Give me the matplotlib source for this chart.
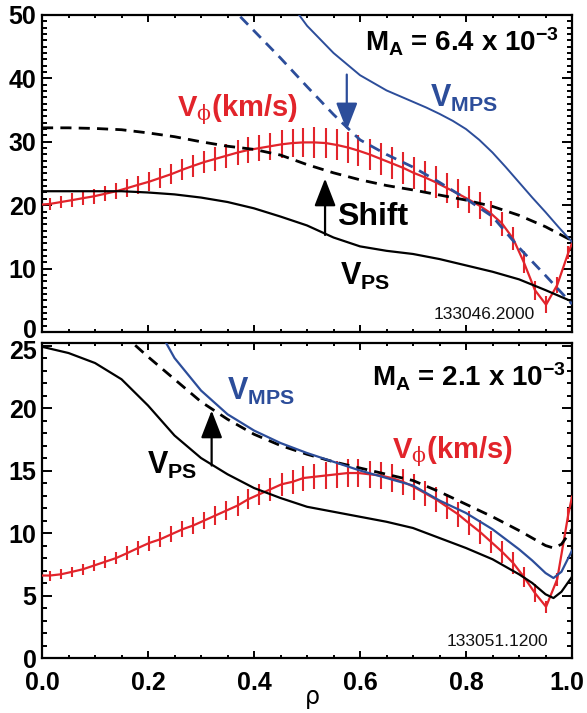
import numpy as np
import matplotlib
matplotlib.use('Agg')
import matplotlib.pyplot as plt
from matplotlib.ticker import MultipleLocator, FormatStrFormatter
from matplotlib.transforms import ScaledTranslation

# ---------------- data ----------------
# top panel (shot 133046, M_A = 6.4e-3)
rho_top = [0.0, 0.05, 0.1, 0.15, 0.2, 0.25, 0.3, 0.35, 0.4, 0.45, 0.5,
           0.55, 0.6, 0.65, 0.7, 0.75, 0.8, 0.85, 0.9, 0.95, 1.0]
vps_top = [22.2, 22.2, 22.2, 22.2, 22.0, 21.7, 21.2, 20.5, 19.5, 18.2, 16.8,
           14.9, 13.5, 12.8, 12.3, 11.5, 10.5, 9.5, 8.3, 6.6, 4.8]
vps_shift_top = [32.2, 32.2, 32.1, 31.9, 31.4, 30.8, 30.0, 29.3, 28.8, 27.9, 26.4,
                 25.1, 24.0, 23.1, 22.4, 21.6, 20.8, 19.8, 18.4, 16.6, 14.4]
rho_mps_top = [0.45, 0.5, 0.55, 0.6, 0.65, 0.7, 0.725, 0.75, 0.775, 0.8, 0.825,
               0.85, 0.875, 0.9, 0.925, 0.95, 0.975, 1.0]
vmps_top = [54.0, 48.3, 44.0, 40.5, 38.1, 36.3, 35.4, 34.4, 33.3, 32.0, 30.3,
            28.3, 26.0, 23.6, 21.2, 18.9, 16.5, 14.2]
rho_mps_shift_top = [0.35, 0.4, 0.45, 0.5, 0.55, 0.6, 0.65, 0.7, 0.75, 0.8, 0.85, 0.9, 0.95, 1.0]
vmps_shift_top = [51.8, 47.5, 43.2, 38.7, 34.3, 30.3, 28.0, 26.0, 23.6, 21.0, 18.2, 13.3, 8.9, 4.4]

# measured toroidal rotation (points with error bars)
rho_meas = [0.0, 0.015, 0.036, 0.057, 0.077, 0.098, 0.119, 0.140, 0.161, 0.181, 0.202,
            0.223, 0.244, 0.265, 0.285, 0.306, 0.327, 0.348, 0.369, 0.389, 0.410,
            0.431, 0.452, 0.473, 0.493, 0.514, 0.535, 0.556, 0.577, 0.597, 0.618,
            0.639, 0.660, 0.681, 0.701, 0.722, 0.743, 0.764, 0.785, 0.805, 0.826,
            0.847, 0.868, 0.889, 0.909, 0.930, 0.951, 0.972, 0.993, 1.0]
vphi_top = [20.1, 20.2, 20.5, 20.8, 21.1, 21.4, 21.8, 22.2, 22.7, 23.2, 23.7,
            24.3, 24.9, 25.6, 26.2, 26.8, 27.3, 27.8, 28.3, 28.7, 29.0,
            29.3, 29.6, 29.8, 29.9, 29.9, 29.8, 29.5, 29.1, 28.6, 28.0,
            27.3, 26.6, 25.9, 25.1, 24.4, 23.6, 22.7, 21.8, 20.9, 19.9,
            18.7, 17.1, 14.7, 11.0, 6.6, 4.3, 7.4, 12.5, 14.0]
err_top = [0.0, 1.0, 1.0, 1.05, 1.1, 1.15, 1.2, 1.3, 1.35, 1.4, 1.5,
           1.55, 1.6, 1.7, 1.75, 1.8, 1.85, 1.9, 2.0, 2.05, 2.1,
           2.15, 2.2, 2.25, 2.3, 2.4, 2.4, 2.45, 2.5, 2.5, 2.5,
           2.5, 2.5, 2.5, 2.5, 2.5, 2.5, 2.4, 2.3, 2.2, 2.1,
           2.0, 1.9, 1.8, 1.7, 1.5, 1.3, 1.2, 1.0, 0.0]

# bottom panel (shot 133051, M_A = 2.1e-3)
rho_bot = [0.0, 0.05, 0.1, 0.15, 0.2, 0.25, 0.3, 0.35, 0.4, 0.45, 0.5, 0.55,
           0.6, 0.65, 0.7, 0.75, 0.8, 0.85, 0.9, 0.925, 0.95, 0.965, 0.98, 1.0]
vps_bot = [24.9, 24.4, 23.6, 22.3, 20.2, 17.8, 16.0, 14.7, 13.6, 12.8, 12.1, 11.7,
           11.3, 10.9, 10.4, 9.6, 8.8, 7.9, 6.7, 6.0, 5.1, 4.8, 5.3, 6.5]
rho_shift_bot = [0.15, 0.2, 0.25, 0.3, 0.35, 0.4, 0.45, 0.5, 0.55, 0.6, 0.65,
                 0.7, 0.75, 0.8, 0.85, 0.9, 0.925, 0.95, 0.965, 0.98, 1.0]
vps_shift_bot = [26.0, 24.1, 22.3, 20.5, 19.1, 17.9, 17.0, 16.3, 15.7, 15.2, 14.7,
                 14.2, 13.3, 12.3, 11.3, 10.2, 9.6, 9.0, 8.8, 9.1, 10.3]
rho_mps_bot = [0.2, 0.25, 0.3, 0.35, 0.4, 0.45, 0.5, 0.55, 0.6, 0.65, 0.7,
               0.75, 0.8, 0.85, 0.9, 0.925, 0.95, 0.965, 0.98, 1.0]
vmps_bot = [27.8, 24.0, 21.4, 19.5, 18.2, 17.2, 16.4, 15.7, 15.0, 14.4, 13.8,
            12.6, 11.6, 10.3, 8.7, 7.8, 6.8, 6.4, 6.9, 8.6]
vphi_bot = [6.6, 6.6, 6.7, 6.9, 7.1, 7.4, 7.7, 8.0, 8.4, 8.8, 9.2,
            9.5, 9.9, 10.3, 10.6, 11.0, 11.4, 11.8, 12.2, 12.7, 13.1,
            13.5, 13.9, 14.1, 14.4, 14.5, 14.6, 14.7, 14.8, 14.8, 14.7,
            14.6, 14.4, 14.1, 13.7, 13.2, 12.7, 12.1, 11.5, 10.8, 10.1,
            9.3, 8.5, 7.6, 6.5, 5.2, 4.1, 6.3, 11.5, 12.9]
err_bot = [0.0, 0.4, 0.4, 0.4, 0.45, 0.45, 0.5, 0.5, 0.55, 0.55, 0.6,
           0.6, 0.65, 0.65, 0.7, 0.7, 0.75, 0.75, 0.8, 0.8, 0.85,
           0.9, 0.9, 0.95, 1.0, 1.0, 1.05, 1.1, 1.1, 1.1, 1.1,
           1.1, 1.1, 1.05, 1.05, 1.0, 1.0, 1.0, 1.0, 0.95, 0.95,
           0.9, 0.9, 0.85, 0.8, 0.7, 0.5, 0.5, 0.5, 0.0]

# arrows (rho, base, tip)
arrow_top_black = (0.534, 15.3, 24.2)
arrow_top_blue = (0.575, 40.6, 31.8)
arrow_bot_black = (0.32, 15.4, 19.8)

xticks = [0.0, 0.2, 0.4, 0.6, 0.8, 1.0]
yticks_top = [0, 10, 20, 30, 40, 50]
yticks_bot = [0, 5, 10, 15, 20, 25]

# ---------------- style ----------------
FONT = 'Liberation Sans'

plt.rcParams['mathtext.fontset'] = 'custom'
plt.rcParams['mathtext.bf'] = FONT + ':bold'
plt.rcParams['mathtext.rm'] = 'DejaVu Serif'
plt.rcParams['mathtext.default'] = 'bf'

RED = '#e2242b'
BLUE = '#2c4d9a'
BLACK = '#000000'

fig = plt.figure(figsize=(5.87, 7.13), dpi=100)
ax1 = fig.add_axes([0.0716, 0.5344, 0.9029, 0.4446])
ax2 = fig.add_axes([0.0716, 0.0771, 0.9029, 0.4418])


def shift(lab, dx_px, dy_px):
    lab.set_transform(lab.get_transform() +
                      ScaledTranslation(dx_px / 100, dy_px / 100, fig.dpi_scale_trans))


def style(ax, yticks, ylim, show_x):
    ax.set_xlim(0, 1)
    ax.set_ylim(*ylim)
    ax.xaxis.set_major_locator(MultipleLocator(0.2))
    ax.xaxis.set_minor_locator(MultipleLocator(0.05))
    ax.set_yticks(yticks)
    ax.yaxis.set_minor_locator(MultipleLocator(1))
    ax.tick_params(which='both', direction='in', top=True, right=True, width=1.4)
    ax.tick_params(axis='y', which='major', length=7.5, pad=4)
    ax.tick_params(axis='y', which='minor', length=3.8)
    ax.tick_params(axis='x', which='major', length=5)
    ax.tick_params(axis='x', which='minor', length=2.5)
    for s in ax.spines.values():
        s.set_linewidth(1.6)
    ylabs = ax.get_yticklabels()
    for lab in ylabs:
        lab.set_fontfamily(FONT)
        lab.set_fontweight('bold')
        lab.set_fontsize(18)
    if show_x:
        ax.set_xticks(xticks)
        ax.xaxis.set_major_formatter(FormatStrFormatter('%.1f'))
        ax.tick_params(axis='x', which='major', pad=9)
        labs = ax.get_xticklabels()
        for lab in labs:
            lab.set_fontfamily(FONT)
            lab.set_fontweight('bold')
            lab.set_fontsize(18)
        shift(labs[-1], -5, 0)
    else:
        ax.set_xticklabels([])
    return ylabs


def arrow(ax, spec, color):
    x, y0, y1 = spec
    ax.annotate('', xy=(x, y1), xytext=(x, y0),
                arrowprops=dict(arrowstyle='-|>,head_length=0.85,head_width=0.33',
                                color=color, lw=1.6, shrinkA=0, shrinkB=0,
                                mutation_scale=20), zorder=6)


def label(ax, x, y, s, size, color, **kw):
    ax.text(x, y, s, fontsize=size, color=color, family=FONT, weight='bold',
            va='center', ha=kw.pop('ha', 'left'), **kw)


# ---- top panel ----
ax = ax1
ax.errorbar(rho_meas, vphi_top, yerr=err_top, color=RED, lw=1.6, elinewidth=1.5,
            capsize=0, zorder=3)
ax.plot(rho_top, vps_top, color=BLACK, lw=1.6, zorder=4)
ax.plot(rho_top, vps_shift_top, color=BLACK, lw=2.0, ls=(0, (4, 2.6)), zorder=4)
ax.plot(rho_mps_top, vmps_top, color=BLUE, lw=1.4, zorder=4)
ax.plot(rho_mps_shift_top, vmps_shift_top, color=BLUE, lw=2.0, ls=(0, (4, 2.6)), zorder=4)
arrow(ax, arrow_top_black, BLACK)
arrow(ax, arrow_top_blue, BLUE)
ylabs_top = style(ax, yticks_top, (0, 50), False)
shift(ylabs_top[0], 0, 3)
label(ax, 0.609, 45.8, r'M$_{A}$ = 6.4 x 10$^{-3}$', 20, BLACK)
label(ax, 0.732, 36.9, r'$V_{MPS}$', 22, BLUE)
label(ax, 0.255, 35.0, r'$V_{\mathrm{\phi}}(km/s)$', 21, RED)
label(ax, 0.557, 18.1, 'Shift', 23, BLACK)
label(ax, 0.562, 8.8, r'$V_{PS}$', 22, BLACK)
ax.text(0.930, 2.8, '133046.2000', fontsize=12.5, family=FONT, color='#111111',
        va='center', ha='right')

# ---- bottom panel ----
ax = ax2
ax.errorbar(rho_meas, vphi_bot, yerr=err_bot, color=RED, lw=1.6, elinewidth=1.5,
            capsize=0, zorder=3)
ax.plot(rho_bot, vps_bot, color=BLACK, lw=1.6, zorder=4)
ax.plot(rho_shift_bot, vps_shift_bot, color=BLACK, lw=2.0, ls=(0, (4, 2.6)), zorder=4)
ax.plot(rho_mps_bot, vmps_bot, color=BLUE, lw=1.6, zorder=4)
arrow(ax, arrow_bot_black, BLACK)
ylabs_bot = style(ax, yticks_bot, (0, 25.2), True)
shift(ylabs_bot[-1], 0, -4)
label(ax, 0.623, 22.5, r'M$_{A}$ = 2.1 x 10$^{-3}$', 20, BLACK)
label(ax, 0.349, 21.3, r'$V_{MPS}$', 22, BLUE)
label(ax, 0.198, 15.4, r'$V_{PS}$', 22, BLACK)
label(ax, 0.660, 16.5, r'$V_{\mathrm{\phi}}(km/s)$', 21, RED)
ax.text(0.955, 1.35, '133051.1200', fontsize=12.5, family=FONT, color='#111111',
        va='center', ha='right')
ax.set_xlabel('ρ', fontsize=17, family='DejaVu Sans')
ax.xaxis.set_label_coords(0.51, -0.085)

fig.savefig('out.png', dpi=100)
